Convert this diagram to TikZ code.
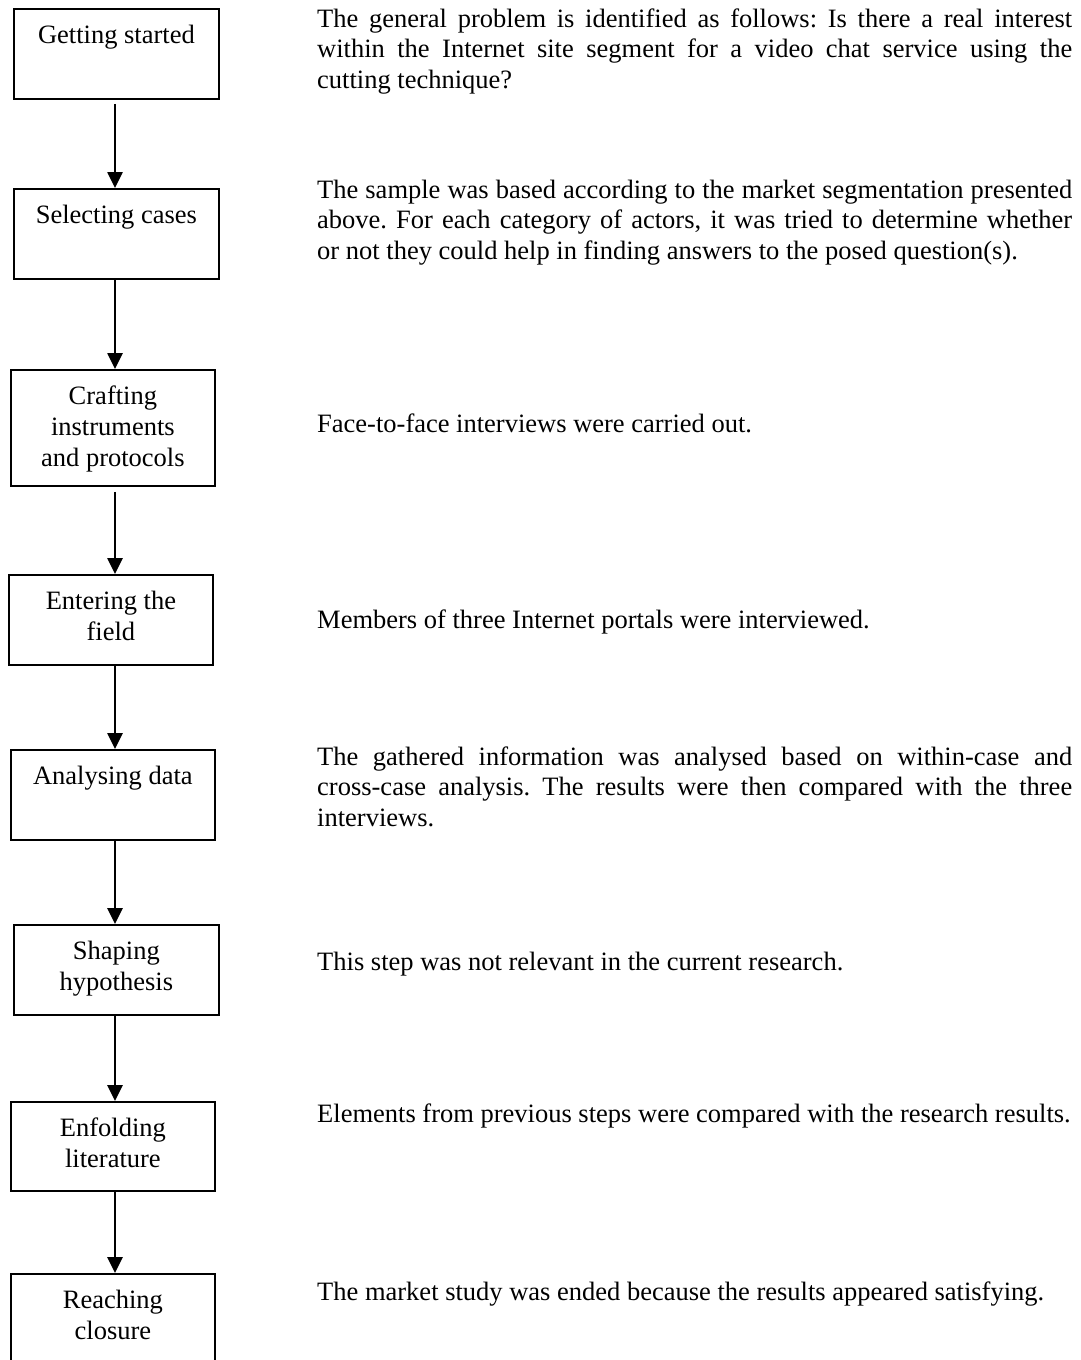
\documentclass[tikz,border=0pt]{standalone}
\usepackage{fontspec}
\setmainfont{Liberation Serif}
\usetikzlibrary{arrows.meta}

% one step of the procedure: a framed box, text set from the top
\newcommand\boxtext[3]{\parbox[c][#2][t]{#1}{\centering\fontsize{26.5}{31}\selectfont\rule{0pt}{35pt}#3}}
% ordinary word spacing inside the notes
\newcommand\plainspacing{\spaceskip=0pt\xspaceskip=0pt\frenchspacing}
% a fully justified line of the explanatory text
\newcommand\jline[1]{\makebox[755pt][s]{\plainspacing #1}}
\hbadness=10000
\frenchspacing

\tikzset{
  stepbox/.style={draw, line width=1.8pt, inner sep=0pt, anchor=north west},
  flow/.style={line width=2.6pt, -{Triangle[length=16pt,width=15pt]}},
  note/.style={inner sep=0pt, anchor=north west, align=left,
               font=\fontsize{26.5}{30.5}\selectfont},
}

\begin{document}
\begin{tikzpicture}[x=1pt, y=-1pt]
\useasboundingbox (0,0) rectangle (1081,1360);
\clip (0,0) rectangle (1081,1360);
\fill[white] (0,0) rectangle (1081,1360);

\coordinate (ax) at (115,0);

% the steps
\node[stepbox] (b1) at (13,8)    {\boxtext{205pt}{90pt}{Getting started}};
\node[stepbox] (b2) at (13,188)  {\boxtext{205pt}{90pt}{Selecting cases}};
\node[stepbox] (b3) at (10,369)  {\boxtext{204pt}{116pt}{Crafting\\instruments\\and protocols}};
\node[stepbox] (b4) at (8,574)   {\boxtext{204pt}{90pt}{Entering the\\field}};
\node[stepbox] (b5) at (10,749)  {\boxtext{204pt}{90pt}{Analysing data}};
\node[stepbox] (b6) at (13,924)  {\boxtext{205pt}{90pt}{Shaping\\hypothesis}};
\node[stepbox] (b7) at (10,1101) {\boxtext{204pt}{89pt}{Enfolding\\literature}};
\node[stepbox] (b8) at (10,1273) {\boxtext{204pt}{100pt}{Reaching\\closure}};

% flow between the steps
\draw[flow, shorten <=4pt] (b1.south -| ax) -- (b2.north -| ax);
\draw[flow] (b2.south -| ax) -- (b3.north -| ax);
\draw[flow, shorten <=5pt] (b3.south -| ax) -- (b4.north -| ax);
\draw[flow] (b4.south -| ax) -- (b5.north -| ax);
\draw[flow] (b5.south -| ax) -- (b6.north -| ax);
\draw[flow] (b6.south -| ax) -- (b7.north -| ax);
\draw[flow] (b7.south -| ax) -- (b8.north -| ax);

% what was done in each step
\node[note] (t1) at (317,3) {\plainspacing\rule{0pt}{24pt}\jline{The general problem is identified as follows: Is there a real interest}\\
  \jline{within the Internet site segment for a video chat service using the}\\
  cutting technique?};
\node[note] (t2) at (317,174) {\plainspacing\rule{0pt}{24pt}\jline{The sample was based according to the market segmentation presented}\\
  \jline{above. For each category of actors, it was tried to determine whether}\\
  or not they could help in finding answers to the posed question(s).};
\node[note] (t3) at (317,408) {\plainspacing\rule{0pt}{24pt}Face-to-face interviews were carried out.};
\node[note] (t4) at (317,604) {\plainspacing\rule{0pt}{24pt}Members of three Internet portals were interviewed.};
\node[note] (t5) at (317,741) {\plainspacing\rule{0pt}{24pt}\jline{The gathered information was analysed based on within-case and}\\
  \jline{cross-case analysis. The results were then compared with the three}\\
  interviews.};
\node[note] (t6) at (317,946) {\plainspacing\rule{0pt}{24pt}This step was not relevant in the current research.};
\node[note] (t7) at (317,1098) {\plainspacing\rule{0pt}{24pt}Elements from previous steps were compared with the research results.};
\node[note] (t8) at (317,1276) {\plainspacing\rule{0pt}{24pt}The market study was ended because the results appeared satisfying.};
\end{tikzpicture}
\end{document}
